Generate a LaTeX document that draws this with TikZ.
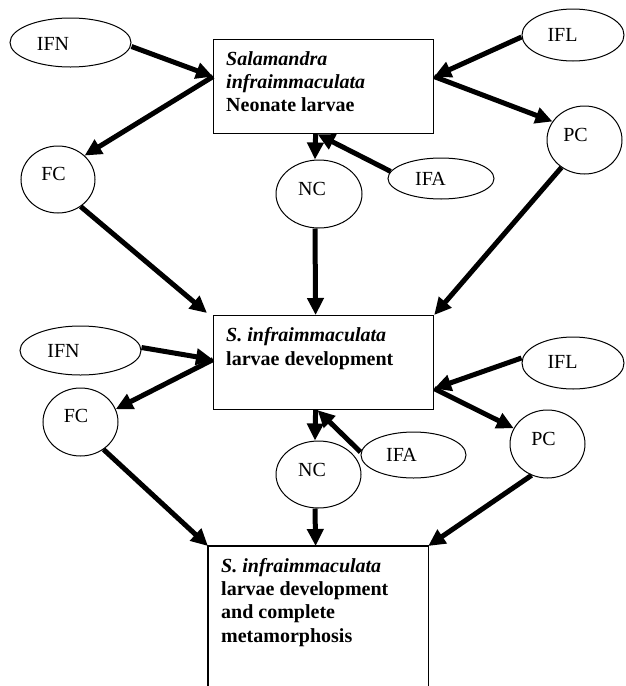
\documentclass[tikz,border=0pt]{standalone}
\usepackage{fontspec}
\setmainfont{Liberation Serif}
\usetikzlibrary{shapes.geometric,arrows.meta}
\begin{document}
\begin{tikzpicture}[x=1pt,y=-1pt,
  every node/.style={font=\fontsize{20}{23.3}\selectfont},
  box/.style={draw, line width=1.2pt, rectangle, inner sep=0pt, anchor=north west},
  oval/.style={draw, line width=1pt, ellipse, inner sep=0pt},
  txt/.style={anchor=base west, align=left, inner sep=0pt},
  arr/.style={line width=5pt, -{Triangle[length=17pt,width=16pt]}},
]
\useasboundingbox (0,0) rectangle (625,686);

% ovals, row 1
\node[oval, minimum width=121pt, minimum height=49pt, label={[shift={(-17.5pt,-1pt)}]center:IFN}] (ifn1) at (70.5,42.5) {};
\node[oval, minimum width=74pt, minimum height=67pt, label={[shift={(-4.5pt,5.5pt)}]center:FC}] (fc1) at (58,179.5) {};
\node[oval, minimum width=86pt, minimum height=68pt, label={[shift={(-7pt,5pt)}]center:NC}] (nc1) at (319,194) {};
\node[oval, minimum width=106pt, minimum height=41pt, label={[shift={(-10.5pt,0pt)}]center:IFA}] (ifa1) at (441,178.5) {};
\node[oval, minimum width=102pt, minimum height=52pt, label={[shift={(-10.5pt,0pt)}]center:IFL}] (ifl1) at (573,35) {};
\node[oval, minimum width=75pt, minimum height=68pt, label={[shift={(-9pt,5pt)}]center:PC}] (pc1) at (584.5,140) {};

% ovals, row 2
\node[oval, minimum width=121pt, minimum height=49pt, label={[shift={(-17pt,-0.5pt)}]center:IFN}] (ifn2) at (80.5,350.5) {};
\node[oval, minimum width=75pt, minimum height=68pt, label={[shift={(-4.5pt,6pt)}]center:FC}] (fc2) at (80.5,422) {};
\node[oval, minimum width=85pt, minimum height=67pt, label={[shift={(-6.5pt,5pt)}]center:NC}] (nc2) at (318.5,474.5) {};
\node[oval, minimum width=105pt, minimum height=46pt, label={[shift={(-12pt,0pt)}]center:IFA}] (ifa2) at (413.5,455) {};
\node[oval, minimum width=102pt, minimum height=52pt, label={[shift={(-10.5pt,1pt)}]center:IFL}] (ifl2) at (573,363) {};
\node[oval, minimum width=75pt, minimum height=68pt, label={[shift={(-4pt,5.5pt)}]center:PC}] (pc2) at (547.5,444) {};

% boxes
\node[box, minimum width=220pt, minimum height=94pt] (b1) at (213,39) {};
\node[box, minimum width=220pt, minimum height=94pt] (b2) at (213,315) {};
\node[box, draw=none, minimum width=219pt, minimum height=140pt] (b3) at (208,546) {};
\draw[line width=1.2pt] (b3.south west) -- (b3.north west) -- (b3.north east) -- (b3.south east);

% texts (base anchor = baseline of last line)
\node[txt] (t1) at (226,111.6) {\textbf{\textit{Salamandra}}\\\textbf{\textit{infraimmaculata}}\\\textbf{Neonate larvae}};
\node[txt] (t2) at (226,365) {\textbf{\textit{S. infraimmaculata}}\\\textbf{larvae development}};
\node[txt] (t3) at (221,642) {\textbf{\textit{S. infraimmaculata}}\\\textbf{larvae development}\\\textbf{and complete}\\\textbf{metamorphosis}};

% arrows, level 1
\draw[arr] ([yshift=-4pt]ifn1.east) -- ([yshift=10pt]b1.west);
\draw[arr] ([yshift=10pt]b1.west) -- (fc1.42);
\draw[arr] ([yshift=-2pt]ifl1.west) -- ([yshift=10pt]b1.east);
\draw[arr] ([yshift=10pt]b1.east) -- (pc1.150);
\draw[arr] ([xshift=-8pt]b1.south) -- ([xshift=-4pt]nc1.north);
\draw[arr] (ifa1.172) -- ([xshift=-6pt]b1.south);

% arrows into box 2
\draw[arr] (fc1.310) -- ([xshift=-6pt,yshift=2pt]b2.north west);
\draw[arr] ([xshift=-4pt]nc1.south) -- ([xshift=-8pt]b2.north);
\draw[arr] (pc1.230) -- (b2.north east);

% arrows, level 2
\draw[arr] ([yshift=3pt]ifn2.east) -- ([yshift=3pt]b2.west);
\draw[arr] ([yshift=3pt]b2.west) -- (fc2.20);
\draw[arr] ([yshift=5pt]ifl2.west) -- ([yshift=-26pt]b2.east);
\draw[arr] ([yshift=-26pt]b2.east) -- (pc2.155);
\draw[arr] ([xshift=-8pt]b2.south) -- ([xshift=-3.5pt]nc2.north);
\draw[arr] ([yshift=3pt]ifa2.west) -- ([xshift=-6pt]b2.south);

% arrows into box 3
\draw[arr] (fc2.310) -- (b3.north west);
\draw[arr] ([xshift=-3.5pt]nc2.south) -- ([xshift=-2.5pt]b3.north);
\draw[arr] (pc2.243) -- (b3.north east);
\end{tikzpicture}
\end{document}
